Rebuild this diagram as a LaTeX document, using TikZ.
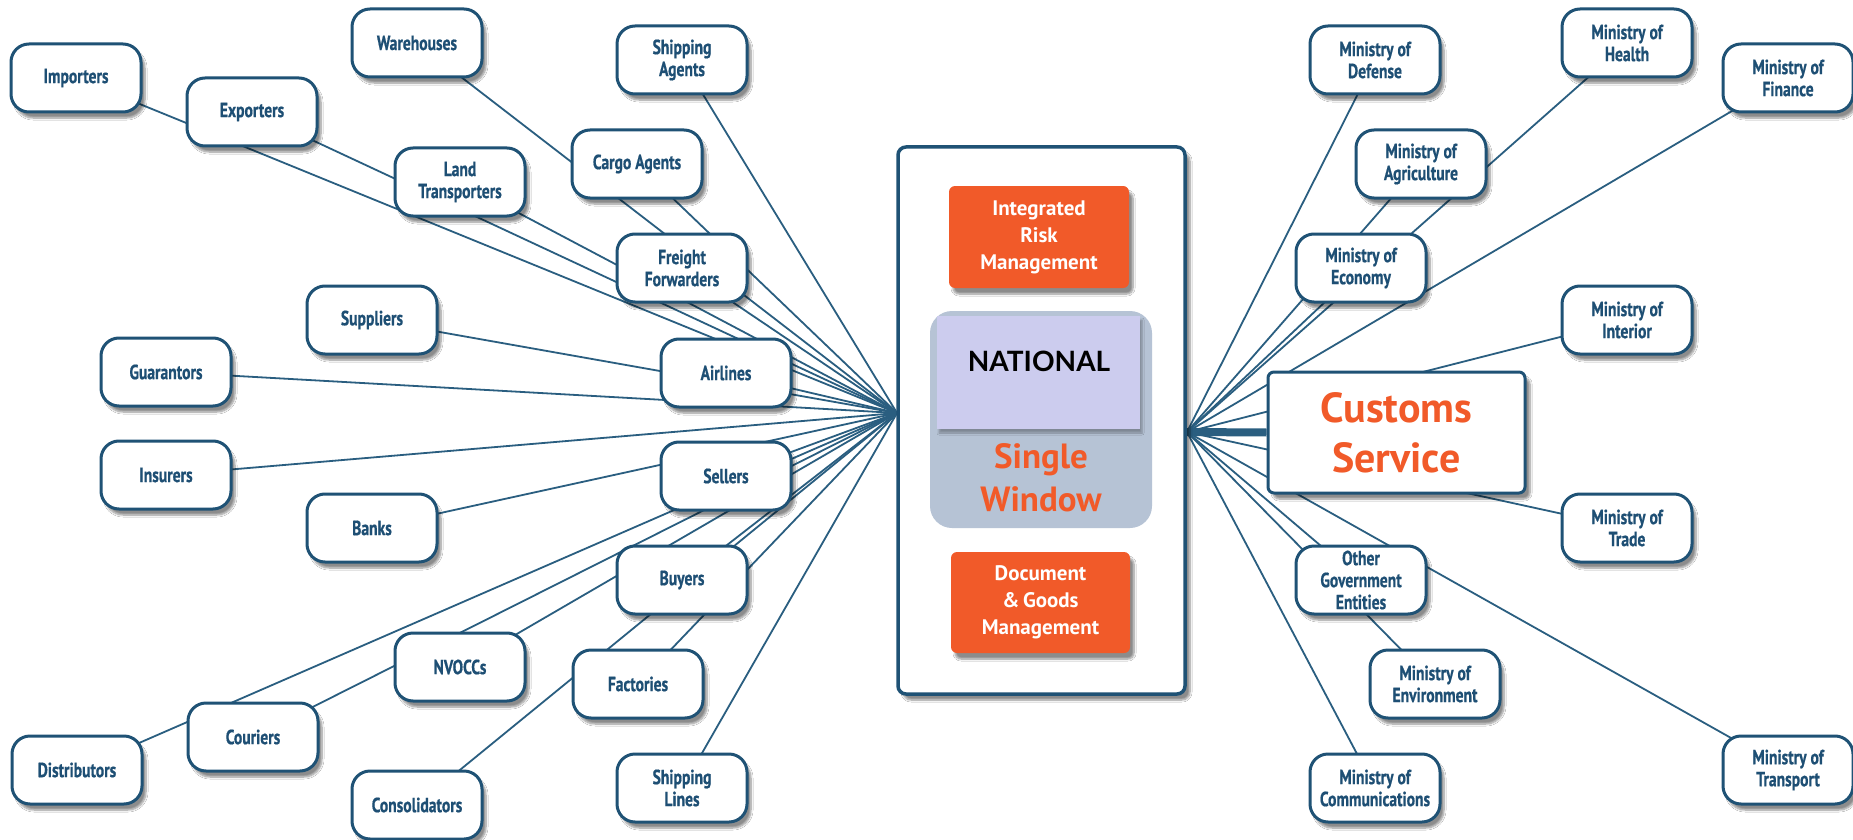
\documentclass[tikz,border=0pt]{standalone}
\usepackage{fontspec}
\usepackage{xcolor}
\usepackage{tikz}
\usetikzlibrary{positioning}
\usetikzlibrary{backgrounds}
\usetikzlibrary{shadows.blur}
\setmainfont{PT Sans}
\newfontfamily\partyfam[FakeStretch=0.76,FakeBold=0.6]{PT Sans}
\newfontfamily\natfam{Lato}
\newcommand{\partyfont}{\partyfam\bfseries\fontsize{20.5}{22}\selectfont}
\newcommand{\modfont}{\bfseries\fontsize{21}{27}\selectfont}
\definecolor{swborder}{HTML}{1F5275}
\definecolor{swtext}{HTML}{1E4F74}
\definecolor{swline}{HTML}{2A5E80}
\definecolor{sworange}{HTML}{F15A29}
\definecolor{swgrey}{HTML}{B6C3D5}
\definecolor{swlav}{HTML}{CCCCEE}

\begin{document}
\begin{tikzpicture}[x=1pt,y=-1pt,
    party/.style={draw=swborder, line width=3pt, fill=white, rounded corners=18pt,
        minimum width=130pt, minimum height=68pt, inner sep=2pt, align=center,
        text=swtext, font=\partyfont,
        blur shadow={shadow xshift=4pt, shadow yshift=-6pt, shadow opacity=45, shadow blur steps=8}},
    module/.style={fill=sworange, rounded corners=6pt, inner sep=0pt, align=center,
        text=white, font=\modfont,
        blur shadow={shadow xshift=4pt, shadow yshift=-6pt, shadow opacity=45, shadow blur steps=8}},
    spoke/.style={draw=swline, line width=1.8pt}]
    \useasboundingbox (0,0) rectangle (1853,840);

    % single window in the middle
    \node[draw=swborder, line width=3.5pt, fill=white, rounded corners=8pt,
        minimum width=287pt, minimum height=547pt, inner sep=0pt,
        blur shadow={shadow xshift=5pt, shadow yshift=-6pt, shadow opacity=45, shadow blur steps=8}] (sw) at (1041.5,420.5) {};
    \node[fill=swgrey, rounded corners=22pt, minimum width=222pt, minimum height=217pt, inner sep=0pt] (swcore) at (1041,419.5) {};
    \node[fill=swlav, minimum width=203pt, minimum height=113pt, inner sep=0pt,
        blur shadow={shadow xshift=2pt, shadow yshift=-4pt, shadow opacity=30, shadow blur steps=5}] (natbox) at (1038.5,372.5) {};
    \node[font=\natfam\bfseries\fontsize{28}{32}\selectfont, text=black] (nat) at (1039,361) {NATIONAL};
    \node[font=\bfseries\fontsize{35}{43}\selectfont, text=sworange, align=center] (swtitle) at (1041,478) {Single\\Window};
    \node[module, minimum width=180pt, minimum height=102pt] (risk) at (1039,237) {Integrated\\Risk\\Management};
    \node[module, minimum width=179pt, minimum height=101pt] (docs) at (1040.5,602.5) {Document\\\&\,Goods\\Management};

    \coordinate (hubL) at (897,413);
    \coordinate (hubR) at (1187,432);

    % trade side
    \node[party] (imp) at (76,78) {Importers};
    \node[party] (wareh) at (417,43) {Warehouses};
    \node[party] (shipag) at (682,60) {Shipping\\Agents};
    \node[party] (exp) at (252,112) {Exporters};
    \node[party] (landtr) at (460,182) {Land\\Transporters};
    \node[party] (cargo) at (637,164) {Cargo Agents};
    \node[party] (freight) at (682,268) {Freight\\Forwarders};
    \node[party] (suppl) at (372,320) {Suppliers};
    \node[party] (guar) at (166,372) {Guarantors};
    \node[party] (air) at (726,373) {Airlines};
    \node[party] (insur) at (166,475) {Insurers};
    \node[party] (sell) at (726,476) {Sellers};
    \node[party] (banks) at (372,528) {Banks};
    \node[party] (buy) at (682,580) {Buyers};
    \node[party] (nvocc) at (460,667) {NVOCCs};
    \node[party] (fact) at (638,684) {Factories};
    \node[party] (cour) at (253,737) {Couriers};
    \node[party] (distr) at (77,770) {Distributors};
    \node[party] (consol) at (417,805) {Consolidators};
    \node[party] (shipln) at (682,788) {Shipping\\Lines};

    % government side
    \node[party] (mdef) at (1375,60) {Ministry of\\Defense};
    \node[party] (mhealth) at (1627,43) {Ministry of\\Health};
    \node[party] (mfin) at (1788,78) {Ministry of\\Finance};
    \node[party] (magri) at (1421,164) {Ministry of\\Agriculture};
    \node[party] (mecon) at (1361,268) {Ministry of\\Economy};
    \node[party] (minter) at (1627,320) {Ministry of\\Interior};
    \node[party] (mtrade) at (1627,528) {Ministry of\\Trade};
    \node[party] (ogov) at (1361,580) {Other\\Government\\Entities};
    \node[party] (menv) at (1435,684) {Ministry of\\Environment};
    \node[party] (mcomm) at (1375,788) {Ministry of\\Communications};
    \node[party] (mtrans) at (1788,770) {Ministry of\\Transport};
    \node[draw=swborder, line width=3pt, fill=white, rounded corners=6pt,
        minimum width=257pt, minimum height=121pt, align=center, text=sworange,
        font=\bfseries\fontsize{42}{50}\selectfont,
        blur shadow={shadow xshift=5pt, shadow yshift=-6pt, shadow opacity=45, shadow blur steps=8}] (cs) at (1396.5,432.5) {Customs\\Service};

    \begin{scope}[on background layer]
        \fill[white] (0,0) rectangle (1853,840);
        \draw[spoke] (imp.center) -- (hubL);
        \draw[spoke] (wareh.center) -- (hubL);
        \draw[spoke] (shipag.center) -- (hubL);
        \draw[spoke] (exp.center) -- (hubL);
        \draw[spoke] (landtr.center) -- (hubL);
        \draw[spoke] (cargo.center) -- (hubL);
        \draw[spoke] (freight.center) -- (hubL);
        \draw[spoke] (suppl.center) -- (hubL);
        \draw[spoke] (guar.center) -- (hubL);
        \draw[spoke] (air.center) -- (hubL);
        \draw[spoke] (insur.center) -- (hubL);
        \draw[spoke] (sell.center) -- (hubL);
        \draw[spoke] (banks.center) -- (hubL);
        \draw[spoke] (buy.center) -- (hubL);
        \draw[spoke] (nvocc.center) -- (hubL);
        \draw[spoke] (fact.center) -- (hubL);
        \draw[spoke] (cour.center) -- (hubL);
        \draw[spoke] (distr.center) -- (hubL);
        \draw[spoke] (consol.center) -- (hubL);
        \draw[spoke] (shipln.center) -- (hubL);

        \draw[spoke] (mdef.center) -- (hubR);
        \draw[spoke] (mhealth.center) -- (hubR);
        \draw[spoke] (mfin.center) -- (hubR);
        \draw[spoke] (magri.center) -- (hubR);
        \draw[spoke] (mecon.center) -- (hubR);
        \draw[spoke] (minter.center) -- (hubR);
        \draw[spoke] (mtrade.center) -- (hubR);
        \draw[spoke] (ogov.center) -- (hubR);
        \draw[spoke] (menv.center) -- (hubR);
        \draw[spoke] (mcomm.center) -- (hubR);
        \draw[spoke] (mtrans.center) -- (hubR);
        \draw[draw=swline, line width=8pt] (hubR) -- (cs.west);
    \end{scope}
\end{tikzpicture}
\end{document}
